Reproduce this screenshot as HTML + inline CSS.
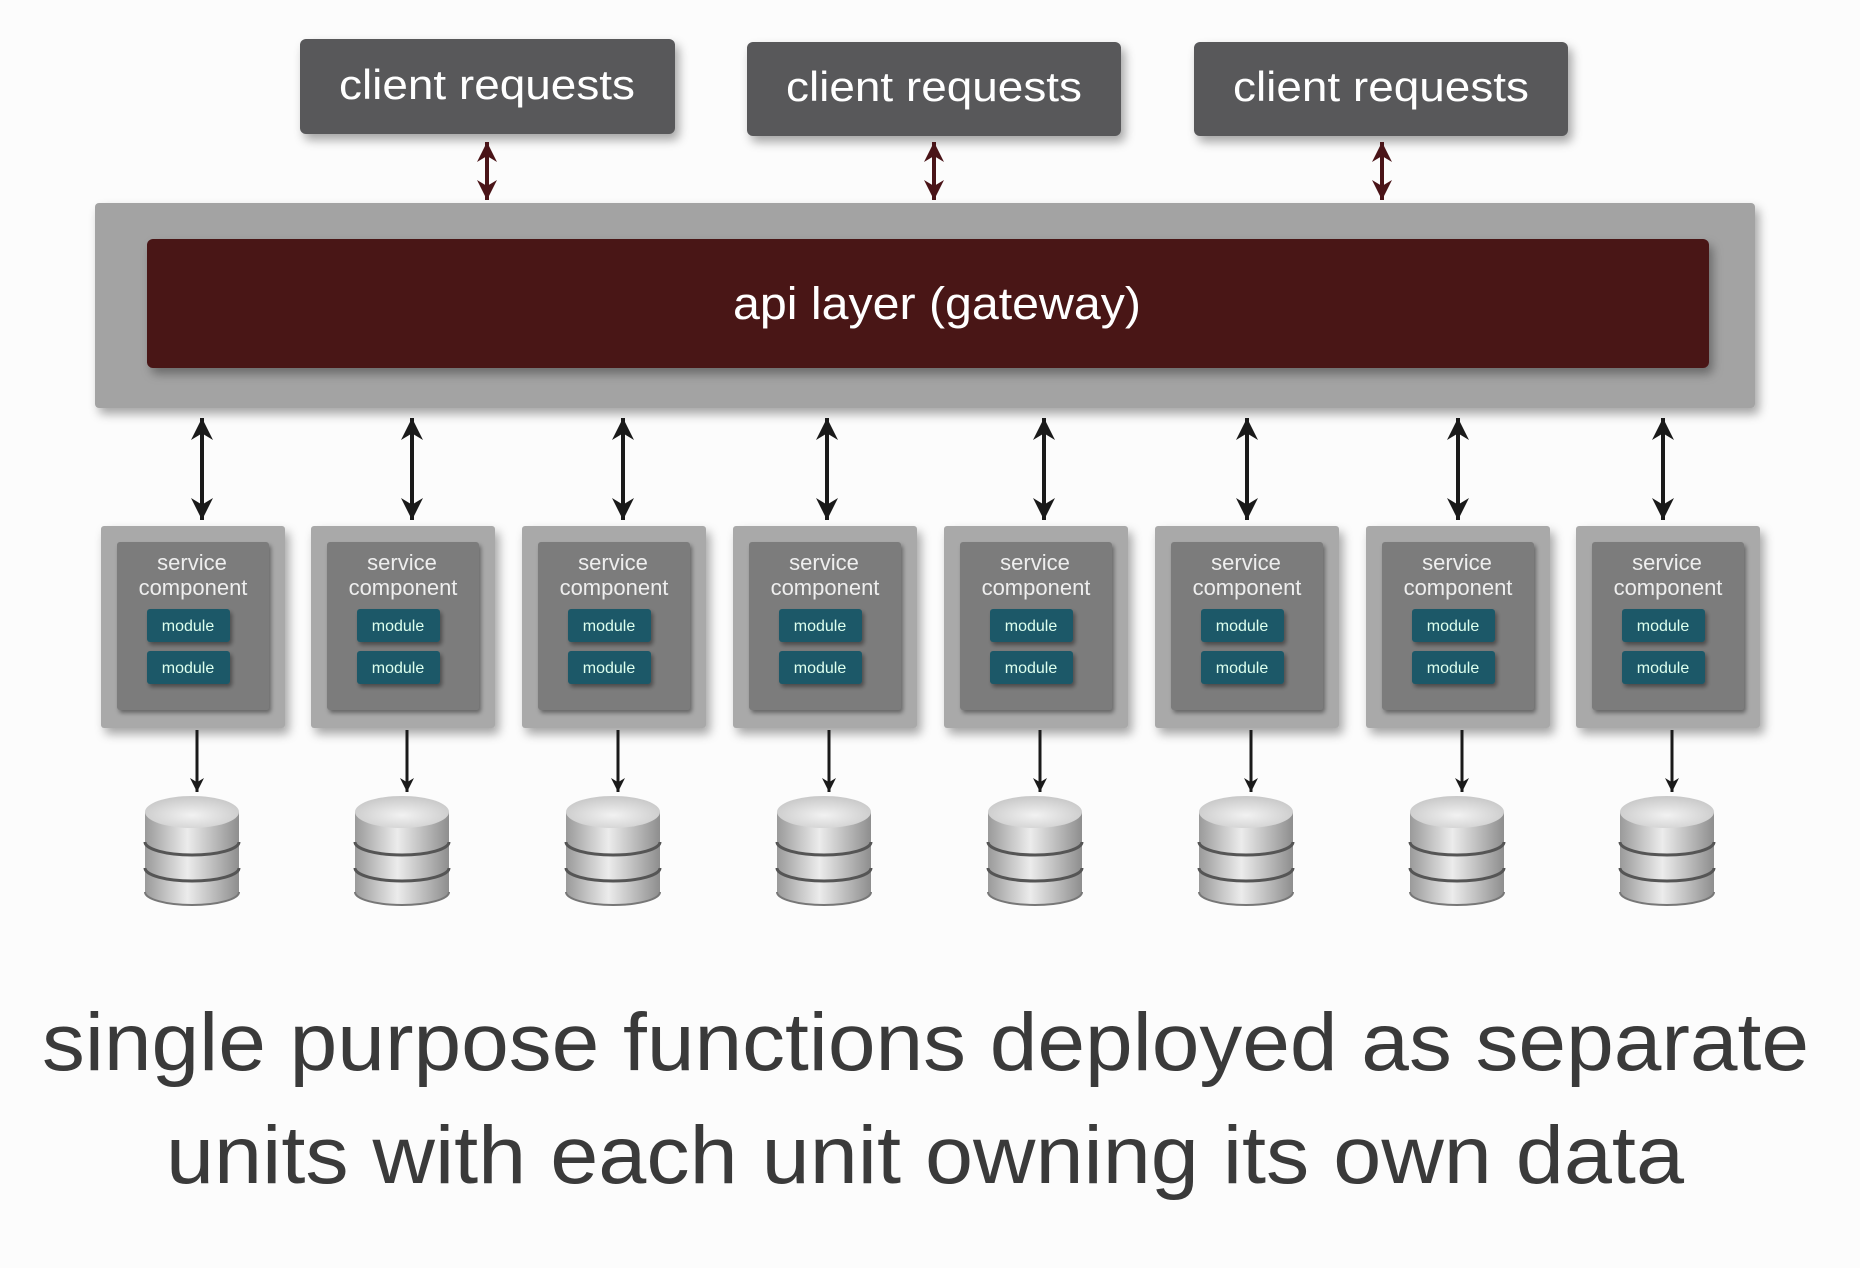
<!DOCTYPE html>
<html><head><meta charset="utf-8"><style>
html,body{margin:0;padding:0;background:#fcfcfc;}
svg{display:block;}
text{font-family:"Liberation Sans",sans-serif;}
</style></head><body>
<svg width="1860" height="1268" viewBox="0 0 1860 1268" xmlns="http://www.w3.org/2000/svg">
<defs>
<filter id="sh" x="-10%" y="-10%" width="130%" height="140%"><feDropShadow dx="4" dy="6" stdDeviation="5" flood-color="#000" flood-opacity="0.35"/></filter>
<filter id="sh2" x="-10%" y="-10%" width="130%" height="140%"><feDropShadow dx="2" dy="3" stdDeviation="2" flood-color="#000" flood-opacity="0.4"/></filter>
<linearGradient id="cy" x1="0" x2="1" y1="0" y2="0"><stop offset="0" stop-color="#9a9a9a"/><stop offset="0.45" stop-color="#ececec"/><stop offset="1" stop-color="#8e8e8e"/></linearGradient>
<radialGradient id="ct" cx="0.5" cy="0.6" r="0.6"><stop offset="0" stop-color="#f2f2f2"/><stop offset="1" stop-color="#c8c8c8"/></radialGradient>
<marker id="mh" markerWidth="20" markerHeight="20" refX="10" refY="5" orient="auto-start-reverse" markerUnits="userSpaceOnUse" viewBox="0 0 10 10"><path d="M0,0 L10,5 L0,10 L3,5z" fill="#4a1418"/></marker>
<marker id="bh" markerWidth="22" markerHeight="22" refX="10" refY="5" orient="auto-start-reverse" markerUnits="userSpaceOnUse" viewBox="0 0 10 10"><path d="M0,0 L10,5 L0,10 L3,5z" fill="#1a1a1a"/></marker>
<marker id="sm" markerWidth="14" markerHeight="14" refX="10" refY="5" orient="auto" markerUnits="userSpaceOnUse" viewBox="0 0 10 10"><path d="M0,0 L10,5 L0,10 L3,5z" fill="#1a1a1a"/></marker>
<g id="cyl">
<path d="M0,16 L0,96 A47,13 0 0 0 94,96 L94,16z" fill="url(#cy)"/>
<path d="M0,46 A47,13 0 0 0 94,46" fill="none" stroke="#555" stroke-width="3"/>
<path d="M0,72 A47,13 0 0 0 94,72" fill="none" stroke="#555" stroke-width="3"/>
<path d="M0,96 A47,13 0 0 0 94,96" fill="none" stroke="#777" stroke-width="2"/>
<ellipse cx="47" cy="16" rx="47" ry="16" fill="url(#ct)"/>
</g>
</defs>

<g filter="url(#sh)">
<rect x="300" y="39" width="375" height="95" rx="6" fill="#58585a"/>
<rect x="747" y="42" width="374" height="94" rx="6" fill="#58585a"/>
<rect x="1194" y="42" width="374" height="94" rx="6" fill="#58585a"/>
</g>
<text x="487" y="99" font-size="42" fill="#fff" text-anchor="middle" textLength="296" lengthAdjust="spacingAndGlyphs">client requests</text>
<text x="934" y="101" font-size="42" fill="#fff" text-anchor="middle" textLength="296" lengthAdjust="spacingAndGlyphs">client requests</text>
<text x="1381" y="101" font-size="42" fill="#fff" text-anchor="middle" textLength="296" lengthAdjust="spacingAndGlyphs">client requests</text>

<g stroke="#4a1418" stroke-width="4">
<line x1="487" y1="142" x2="487" y2="200" marker-start="url(#mh)" marker-end="url(#mh)"/>
<line x1="934" y1="142" x2="934" y2="200" marker-start="url(#mh)" marker-end="url(#mh)"/>
<line x1="1382" y1="142" x2="1382" y2="200" marker-start="url(#mh)" marker-end="url(#mh)"/>
</g>

<rect x="95" y="203" width="1660" height="205" rx="4" fill="#a3a3a3" filter="url(#sh)"/>
<rect x="147" y="239" width="1562" height="129" rx="6" fill="#4a1418" filter="url(#sh)"/>
<text x="937" y="319" font-size="45" fill="#fff" text-anchor="middle" textLength="408" lengthAdjust="spacingAndGlyphs">api layer (gateway)</text>

<g stroke="#1a1a1a" stroke-width="4">
<line x1="202" y1="418" x2="202" y2="520" marker-start="url(#bh)" marker-end="url(#bh)"/>
<line x1="412" y1="418" x2="412" y2="520" marker-start="url(#bh)" marker-end="url(#bh)"/>
<line x1="623" y1="418" x2="623" y2="520" marker-start="url(#bh)" marker-end="url(#bh)"/>
<line x1="827" y1="418" x2="827" y2="520" marker-start="url(#bh)" marker-end="url(#bh)"/>
<line x1="1044" y1="418" x2="1044" y2="520" marker-start="url(#bh)" marker-end="url(#bh)"/>
<line x1="1247" y1="418" x2="1247" y2="520" marker-start="url(#bh)" marker-end="url(#bh)"/>
<line x1="1458" y1="418" x2="1458" y2="520" marker-start="url(#bh)" marker-end="url(#bh)"/>
<line x1="1663" y1="418" x2="1663" y2="520" marker-start="url(#bh)" marker-end="url(#bh)"/>
</g>

<g transform="translate(101,526)">
<rect x="0" y="0" width="184" height="202" rx="3" fill="#a9a9a9" filter="url(#sh)"/>
<rect x="16" y="16" width="152" height="168" rx="3" fill="#7b7b7b" filter="url(#sh2)"/>
<text x="91" y="44" font-size="22" fill="#eee" text-anchor="middle">service</text>
<text x="92" y="69" font-size="22" fill="#eee" text-anchor="middle">component</text>
<rect x="46" y="83" width="83" height="33" rx="3" fill="#1b5868" filter="url(#sh2)"/>
<text x="87" y="105" font-size="16" fill="#dfe" text-anchor="middle">module</text>
<rect x="46" y="125" width="83" height="33" rx="3" fill="#1b5868" filter="url(#sh2)"/>
<text x="87" y="147" font-size="16" fill="#dfe" text-anchor="middle">module</text>
<line x1="96" y1="204" x2="96" y2="266" stroke="#1a1a1a" stroke-width="3" marker-end="url(#sm)"/>
<use href="#cyl" x="44" y="270"/>
</g>
<g transform="translate(311,526)">
<rect x="0" y="0" width="184" height="202" rx="3" fill="#a9a9a9" filter="url(#sh)"/>
<rect x="16" y="16" width="152" height="168" rx="3" fill="#7b7b7b" filter="url(#sh2)"/>
<text x="91" y="44" font-size="22" fill="#eee" text-anchor="middle">service</text>
<text x="92" y="69" font-size="22" fill="#eee" text-anchor="middle">component</text>
<rect x="46" y="83" width="83" height="33" rx="3" fill="#1b5868" filter="url(#sh2)"/>
<text x="87" y="105" font-size="16" fill="#dfe" text-anchor="middle">module</text>
<rect x="46" y="125" width="83" height="33" rx="3" fill="#1b5868" filter="url(#sh2)"/>
<text x="87" y="147" font-size="16" fill="#dfe" text-anchor="middle">module</text>
<line x1="96" y1="204" x2="96" y2="266" stroke="#1a1a1a" stroke-width="3" marker-end="url(#sm)"/>
<use href="#cyl" x="44" y="270"/>
</g>
<g transform="translate(522,526)">
<rect x="0" y="0" width="184" height="202" rx="3" fill="#a9a9a9" filter="url(#sh)"/>
<rect x="16" y="16" width="152" height="168" rx="3" fill="#7b7b7b" filter="url(#sh2)"/>
<text x="91" y="44" font-size="22" fill="#eee" text-anchor="middle">service</text>
<text x="92" y="69" font-size="22" fill="#eee" text-anchor="middle">component</text>
<rect x="46" y="83" width="83" height="33" rx="3" fill="#1b5868" filter="url(#sh2)"/>
<text x="87" y="105" font-size="16" fill="#dfe" text-anchor="middle">module</text>
<rect x="46" y="125" width="83" height="33" rx="3" fill="#1b5868" filter="url(#sh2)"/>
<text x="87" y="147" font-size="16" fill="#dfe" text-anchor="middle">module</text>
<line x1="96" y1="204" x2="96" y2="266" stroke="#1a1a1a" stroke-width="3" marker-end="url(#sm)"/>
<use href="#cyl" x="44" y="270"/>
</g>
<g transform="translate(733,526)">
<rect x="0" y="0" width="184" height="202" rx="3" fill="#a9a9a9" filter="url(#sh)"/>
<rect x="16" y="16" width="152" height="168" rx="3" fill="#7b7b7b" filter="url(#sh2)"/>
<text x="91" y="44" font-size="22" fill="#eee" text-anchor="middle">service</text>
<text x="92" y="69" font-size="22" fill="#eee" text-anchor="middle">component</text>
<rect x="46" y="83" width="83" height="33" rx="3" fill="#1b5868" filter="url(#sh2)"/>
<text x="87" y="105" font-size="16" fill="#dfe" text-anchor="middle">module</text>
<rect x="46" y="125" width="83" height="33" rx="3" fill="#1b5868" filter="url(#sh2)"/>
<text x="87" y="147" font-size="16" fill="#dfe" text-anchor="middle">module</text>
<line x1="96" y1="204" x2="96" y2="266" stroke="#1a1a1a" stroke-width="3" marker-end="url(#sm)"/>
<use href="#cyl" x="44" y="270"/>
</g>
<g transform="translate(944,526)">
<rect x="0" y="0" width="184" height="202" rx="3" fill="#a9a9a9" filter="url(#sh)"/>
<rect x="16" y="16" width="152" height="168" rx="3" fill="#7b7b7b" filter="url(#sh2)"/>
<text x="91" y="44" font-size="22" fill="#eee" text-anchor="middle">service</text>
<text x="92" y="69" font-size="22" fill="#eee" text-anchor="middle">component</text>
<rect x="46" y="83" width="83" height="33" rx="3" fill="#1b5868" filter="url(#sh2)"/>
<text x="87" y="105" font-size="16" fill="#dfe" text-anchor="middle">module</text>
<rect x="46" y="125" width="83" height="33" rx="3" fill="#1b5868" filter="url(#sh2)"/>
<text x="87" y="147" font-size="16" fill="#dfe" text-anchor="middle">module</text>
<line x1="96" y1="204" x2="96" y2="266" stroke="#1a1a1a" stroke-width="3" marker-end="url(#sm)"/>
<use href="#cyl" x="44" y="270"/>
</g>
<g transform="translate(1155,526)">
<rect x="0" y="0" width="184" height="202" rx="3" fill="#a9a9a9" filter="url(#sh)"/>
<rect x="16" y="16" width="152" height="168" rx="3" fill="#7b7b7b" filter="url(#sh2)"/>
<text x="91" y="44" font-size="22" fill="#eee" text-anchor="middle">service</text>
<text x="92" y="69" font-size="22" fill="#eee" text-anchor="middle">component</text>
<rect x="46" y="83" width="83" height="33" rx="3" fill="#1b5868" filter="url(#sh2)"/>
<text x="87" y="105" font-size="16" fill="#dfe" text-anchor="middle">module</text>
<rect x="46" y="125" width="83" height="33" rx="3" fill="#1b5868" filter="url(#sh2)"/>
<text x="87" y="147" font-size="16" fill="#dfe" text-anchor="middle">module</text>
<line x1="96" y1="204" x2="96" y2="266" stroke="#1a1a1a" stroke-width="3" marker-end="url(#sm)"/>
<use href="#cyl" x="44" y="270"/>
</g>
<g transform="translate(1366,526)">
<rect x="0" y="0" width="184" height="202" rx="3" fill="#a9a9a9" filter="url(#sh)"/>
<rect x="16" y="16" width="152" height="168" rx="3" fill="#7b7b7b" filter="url(#sh2)"/>
<text x="91" y="44" font-size="22" fill="#eee" text-anchor="middle">service</text>
<text x="92" y="69" font-size="22" fill="#eee" text-anchor="middle">component</text>
<rect x="46" y="83" width="83" height="33" rx="3" fill="#1b5868" filter="url(#sh2)"/>
<text x="87" y="105" font-size="16" fill="#dfe" text-anchor="middle">module</text>
<rect x="46" y="125" width="83" height="33" rx="3" fill="#1b5868" filter="url(#sh2)"/>
<text x="87" y="147" font-size="16" fill="#dfe" text-anchor="middle">module</text>
<line x1="96" y1="204" x2="96" y2="266" stroke="#1a1a1a" stroke-width="3" marker-end="url(#sm)"/>
<use href="#cyl" x="44" y="270"/>
</g>
<g transform="translate(1576,526)">
<rect x="0" y="0" width="184" height="202" rx="3" fill="#a9a9a9" filter="url(#sh)"/>
<rect x="16" y="16" width="152" height="168" rx="3" fill="#7b7b7b" filter="url(#sh2)"/>
<text x="91" y="44" font-size="22" fill="#eee" text-anchor="middle">service</text>
<text x="92" y="69" font-size="22" fill="#eee" text-anchor="middle">component</text>
<rect x="46" y="83" width="83" height="33" rx="3" fill="#1b5868" filter="url(#sh2)"/>
<text x="87" y="105" font-size="16" fill="#dfe" text-anchor="middle">module</text>
<rect x="46" y="125" width="83" height="33" rx="3" fill="#1b5868" filter="url(#sh2)"/>
<text x="87" y="147" font-size="16" fill="#dfe" text-anchor="middle">module</text>
<line x1="96" y1="204" x2="96" y2="266" stroke="#1a1a1a" stroke-width="3" marker-end="url(#sm)"/>
<use href="#cyl" x="44" y="270"/>
</g>

<text x="42" y="1070" font-size="82" fill="#3a3a3a" textLength="1767" lengthAdjust="spacingAndGlyphs">single purpose functions deployed as separate</text>
<text x="166" y="1183" font-size="82" fill="#3a3a3a" textLength="1518" lengthAdjust="spacingAndGlyphs">units with each unit owning its own data</text>
</svg>
</body></html>
